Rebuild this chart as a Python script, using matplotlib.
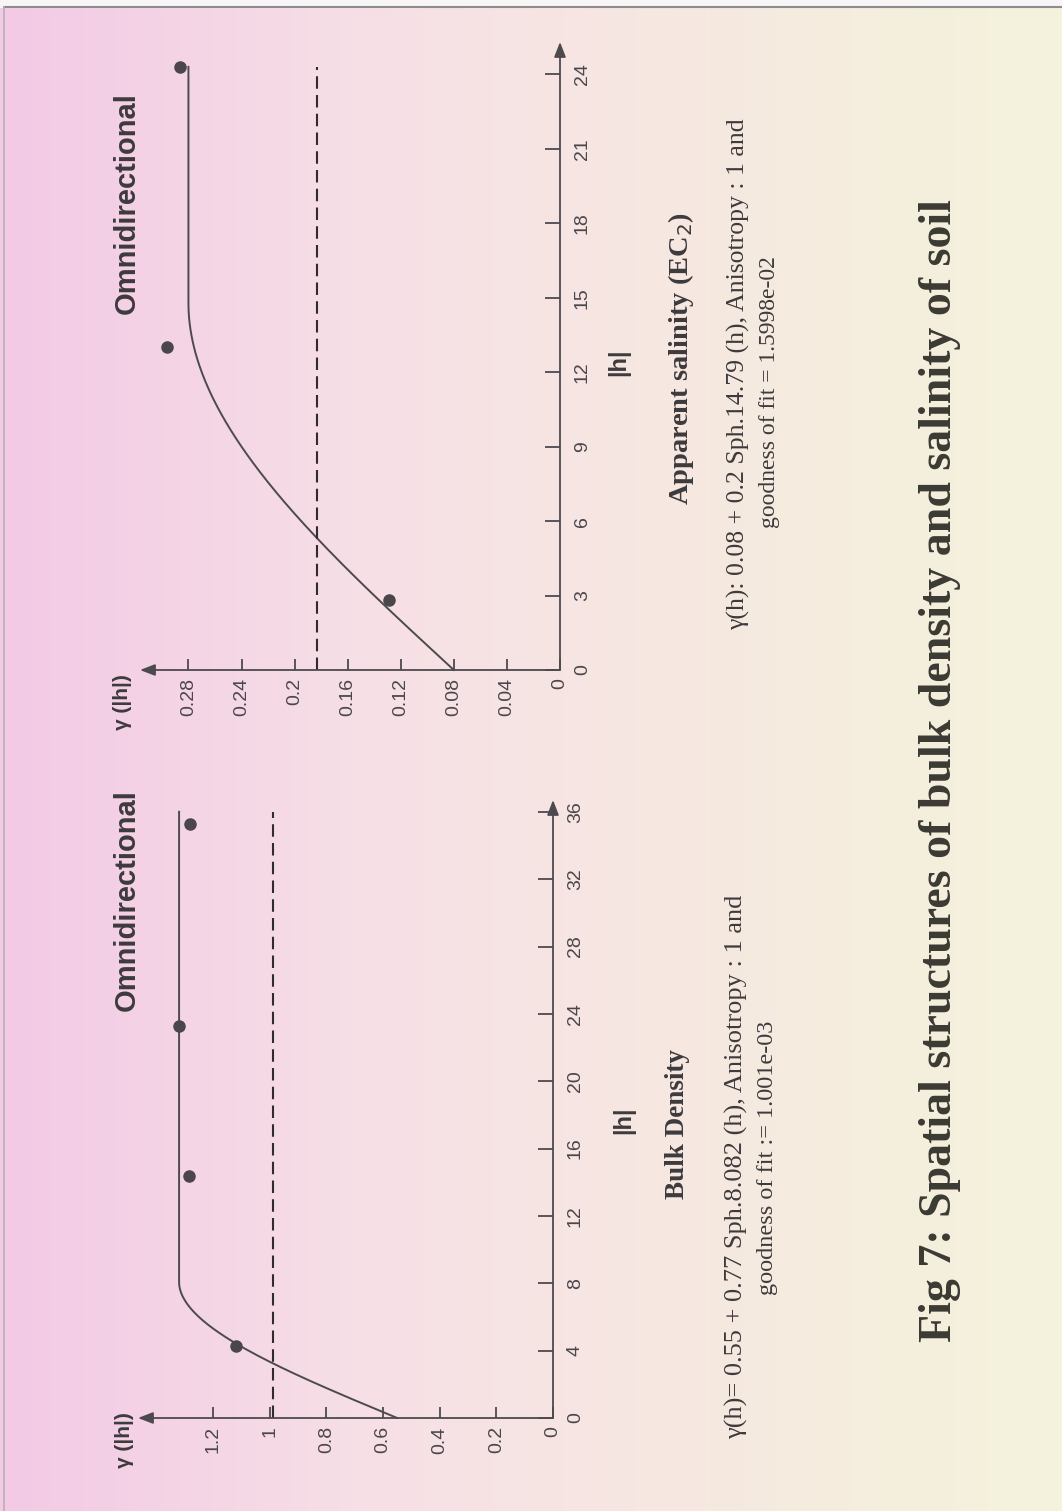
import numpy as np
import matplotlib.pyplot as plt
from matplotlib.colors import LinearSegmentedColormap

W, H = 1062, 1511

# Semivariogram of bulk density: spherical model and experimental points
bd_nugget, bd_psill, bd_range = 0.55, 0.77, 8.082
bd_lag = [4.3, 14.4, 23.3, 35.3]
bd_gamma = [1.12, 1.285, 1.32, 1.28]
bd_variance = 0.99
bd_hmax = 36.0
bd_gticks = [0, 0.2, 0.4, 0.6, 0.8, 1.0, 1.2]
bd_glabels = ['0', '0.2', '0.4', '0.6', '0.8', '1', '1.2']
bd_hticks = [0, 4, 8, 12, 16, 20, 24, 28, 32, 36]

# Semivariogram of apparent salinity (EC2)
ec_nugget, ec_psill, ec_range = 0.08, 0.2, 14.79
ec_lag = [2.8, 13.0, 24.3]
ec_gamma = [0.129, 0.296, 0.286]
ec_variance = 0.183
ec_hmax = 24.3
ec_gticks = [0, 0.04, 0.08, 0.12, 0.16, 0.2, 0.24, 0.28]
ec_glabels = ['0', '0.04', '0.08', '0.12', '0.16', '0.2', '0.24', '0.28']
ec_hticks = [0, 3, 6, 9, 12, 15, 18, 21, 24]

axc = '#4d4a4f'
sans = ['Liberation Sans', 'DejaVu Sans']
serif = ['Liberation Serif', 'DejaVu Serif']


def spherical(h, c0, c, a):
    h = np.asarray(h, dtype=float)
    r = np.where(h < a, 1.5 * h / a - 0.5 * (h / a) ** 3, 1.0)
    return c0 + c * r


def fx(x):
    return x / W


def fy(y):
    return 1 - y / H


fig = plt.figure(figsize=(W / 100, H / 100), dpi=100)

# page background: pink on the left fading to cream on the right
bg = fig.add_axes([0, 0, 1, 1])
cmap = LinearSegmentedColormap.from_list('page', ['#f3c9e5', '#f6dfe6', '#f6e9e0', '#f4f3dc'])
grad = np.tile(np.linspace(0, 1, 256), (8, 1))
bg.imshow(grad, aspect='auto', cmap=cmap, extent=[0, W, H, 0])
bg.fill_between([0, W], 0, 7, color='#f7f5f5')
bg.plot([4, W], [7, 7], color='#8f8c8e', lw=1.5)
bg.plot([4, 4], [7, H], color='#b8b0b5', lw=1.2)
bg.set_xlim(0, W)
bg.set_ylim(H, 0)
bg.axis('off')


def variogram(box, gmax, hmax, gticks, glabels, hticks,
              nugget, psill, arange, hend, lag, gamma, variance):
    left, right, top, bottom = box
    ax = fig.add_axes([fx(left), fy(bottom), fx(right - left), (bottom - top) / H])
    ax.patch.set_alpha(0)
    for s in ax.spines.values():
        s.set_visible(False)
    ax.set_xlim(gmax, 0)
    ax.set_ylim(0, hmax)

    # axis lines with arrow heads
    arr = dict(arrowstyle='-|>,head_length=0.9,head_width=0.35', color=axc, lw=1.3,
               shrinkA=0, shrinkB=0)
    ax.annotate('', xy=(gmax, 0), xytext=(0, 0), arrowprops=arr, annotation_clip=False)
    ax.annotate('', xy=(0, hmax), xytext=(0, 0), arrowprops=arr, annotation_clip=False)

    h = np.linspace(0, hend, 300)
    ax.plot(spherical(h, nugget, psill, arange), h, color=axc, lw=1.4, clip_on=False)
    ax.plot([variance, variance], [0, hend], color='#2f2c30', lw=1.5,
            ls=(0, (6, 3)), clip_on=False)
    ax.plot(gamma, lag, 'o', color='#4a464c', ms=8, clip_on=False)

    ax.set_xticks(gticks)
    ax.set_xticklabels(glabels)
    ax.set_yticks(hticks)
    ax.yaxis.tick_right()
    ax.tick_params(axis='x', direction='in', length=8, width=1.3, color=axc, pad=6,
                   labelrotation=90, labelsize=14, labelcolor='#4a474b')
    ax.tick_params(axis='y', direction='in', length=11, width=1.3, color=axc, pad=10,
                   labelrotation=90, labelsize=14, labelcolor='#4a474b')
    for lbl in ax.get_xticklabels() + ax.get_yticklabels():
        lbl.set_family(sans)
    for lbl in ax.get_yticklabels():
        lbl.set_va('center')
    return ax


variogram((138, 553, 800, 1418), 1.465, 36.7, bd_gticks, bd_glabels, bd_hticks,
          bd_nugget, bd_psill, bd_range, bd_hmax, bd_lag, bd_gamma, bd_variance)
variogram((140, 560, 42, 670), 0.3165, 25.3, ec_gticks, ec_glabels, ec_hticks,
          ec_nugget, ec_psill, ec_range, ec_hmax, ec_lag, ec_gamma, ec_variance)


def rtext(x, y, s, **kw):
    fig.text(fx(x), fy(y), s, rotation=90, ha='center', va='center', **kw)


tc = '#3d3a3e'
# panel headings and axis names
rtext(127, 900, 'Omnidirectional', family=sans, fontsize=21, weight='bold', color=tc)
rtext(127, 203, 'Omnidirectional', family=sans, fontsize=21, weight='bold', color=tc)
rtext(124, 1440, 'γ (|h|)', family=sans, fontsize=15, weight='bold', color=tc)
rtext(122, 702, 'γ (|h|)', family=sans, fontsize=15, weight='bold', color=tc)
rtext(624, 1120, '|h|', family=sans, fontsize=17, weight='bold', color=tc)
rtext(619, 362, '|h|', family=sans, fontsize=17, weight='bold', color=tc)

# captions under each panel
rtext(678, 1124, 'Bulk Density', family=serif, fontsize=19.5, weight='bold', color=tc)
rtext(736, 1167, 'γ(h)= 0.55 + 0.77 Sph.8.082 (h), Anisotropy : 1 and',
      family=serif, fontsize=19, color=tc)
rtext(767, 1158, 'goodness of fit := 1.001e-03', family=serif, fontsize=17.5, color=tc)

rtext(681, 358, 'Apparent salinity (EC$_2$)', family=serif, fontsize=20.5, weight='bold', color=tc)
rtext(738, 374, 'γ(h): 0.08 + 0.2 Sph.14.79 (h), Anisotropy : 1 and',
      family=serif, fontsize=18.5, color=tc)
rtext(769, 392, 'goodness of fit = 1.5998e-02', family=serif, fontsize=17, color=tc)

rtext(940, 771, 'Fig 7: Spatial structures of bulk density and salinity of soil',
      family=serif, fontsize=33, weight='bold', color='#3b3a33')

fig.savefig('out.png', dpi=100)
